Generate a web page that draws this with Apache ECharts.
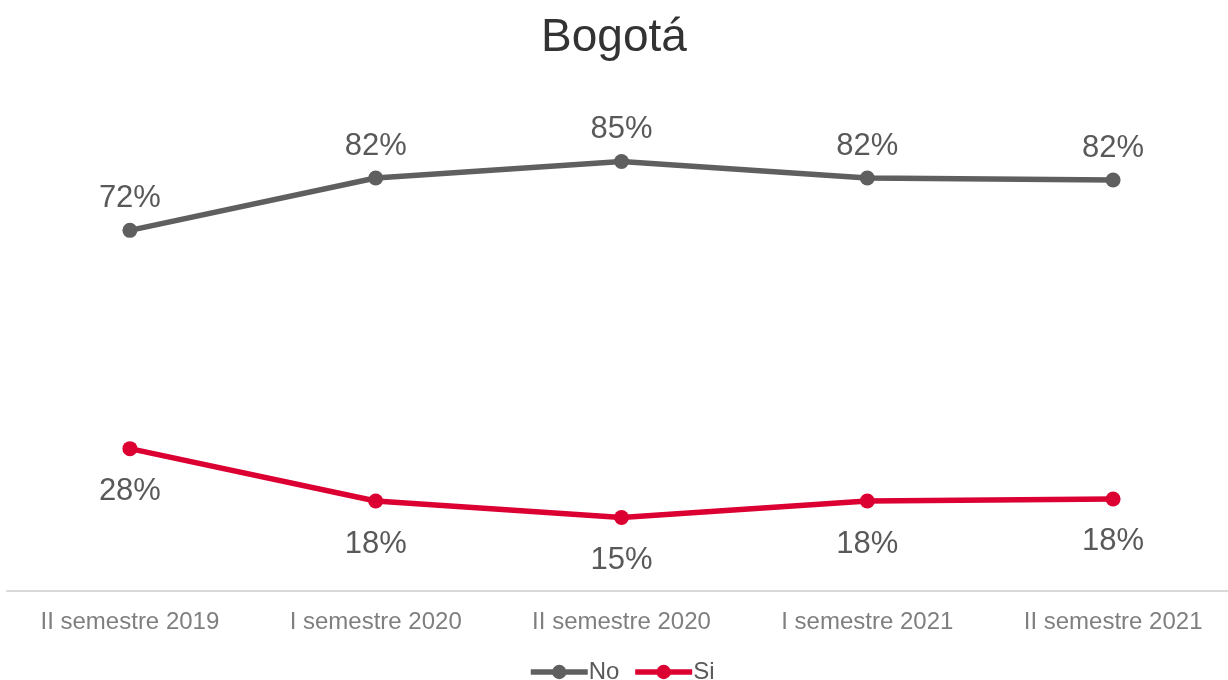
<!DOCTYPE html>
<html>
<head>
<meta charset="utf-8">
<script src="https://cdn.jsdelivr.net/npm/echarts@6/dist/echarts.min.js"></script>
<style>
  html, body { margin: 0; padding: 0; background: #fff; }
  #chart { width: 1228px; height: 680px; }
</style>
</head>
<body>
<div id="chart"></div>
<script>
// datos (porcentaje)
var semestres = ['II semestre 2019', 'I semestre 2020', 'II semestre 2020', 'I semestre 2021', 'II semestre 2021'];
var valoresNo = [71.7, 82.1, 85.4, 82.1, 81.7];
var valoresSi = [28.3, 17.9, 14.6, 17.9, 18.3];

var fuente = 'Liberation Sans, Arial, sans-serif';

function etiqueta(p) {
    return Math.round(p.value) + '%';
}

var oChart = echarts.init(document.getElementById('chart'));
var opt = {
    animation: false,
    title: {
        text: 'Bogotá',
        left: 'center',
        top: 10,
        textStyle: {
            fontFamily: fuente,
            fontSize: 46,
            fontWeight: 'normal',
            color: '#333333'
        }
    },
    legend: {
        data: ['No', 'Si'],
        top: 655,
        left: 523,
        itemWidth: 57,
        itemHeight: 18,
        itemGap: 13,
        lineStyle: { width: 5.5 },
        textStyle: {
            fontFamily: fuente,
            fontSize: 24,
            color: '#595959',
            padding: [0, 0, 0, -4]
        }
    },
    grid: {
        left: 7,
        right: -8,
        top: 88,
        bottom: 89,
        outerBoundsMode: 'none'
    },
    xAxis: {
        type: 'category',
        boundaryGap: true,
        data: semestres,
        axisLine: { lineStyle: { color: '#d9d9d9', width: 2 } },
        axisTick: { show: false },
        axisLabel: {
            margin: 19,
            fontFamily: fuente,
            fontSize: 24,
            color: '#7f7f7f'
        }
    },
    yAxis: {
        type: 'value',
        min: 0,
        max: 100,
        show: false,
        splitLine: { show: false }
    },
    series: [{
        name: 'No',
        type: 'line',
        data: valoresNo,
        color: '#5f5f5f',
        symbol: 'circle',
        symbolSize: 15,
        lineStyle: { width: 5.5, color: '#5f5f5f' },
        label: {
            show: true,
            position: 'top',
            distance: 9,
            formatter: etiqueta,
            fontFamily: fuente,
            fontSize: 31,
            color: '#595959'
        }
    }, {
        name: 'Si',
        type: 'line',
        data: valoresSi,
        color: '#dc0032',
        symbol: 'circle',
        symbolSize: 15,
        lineStyle: { width: 5.5, color: '#dc0032' },
        label: {
            show: true,
            position: 'bottom',
            distance: 20,
            formatter: etiqueta,
            fontFamily: fuente,
            fontSize: 31,
            color: '#595959'
        }
    }]
};
oChart.setOption(opt);
</script>
</body>
</html>
